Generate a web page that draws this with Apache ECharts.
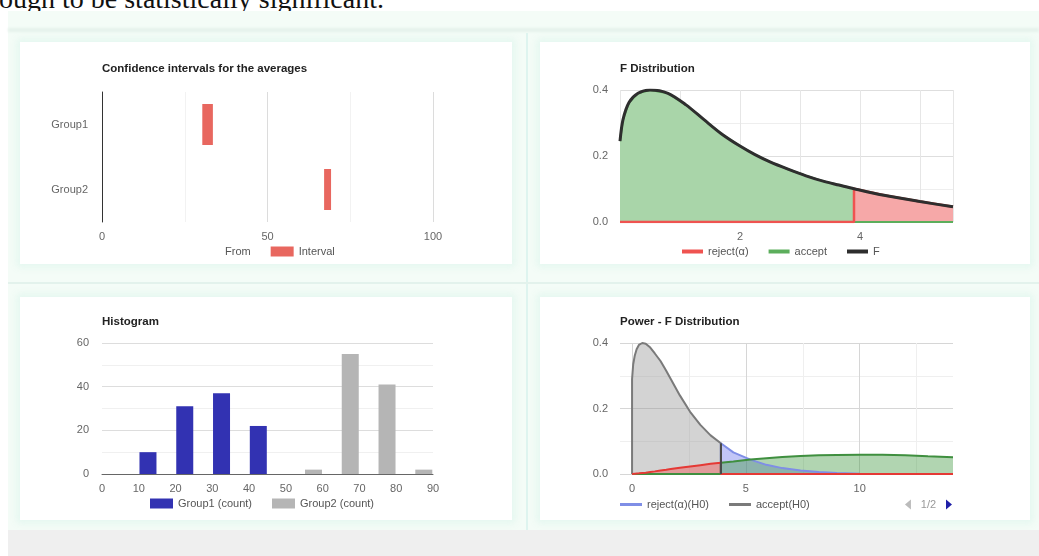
<!DOCTYPE html>
<html>
<head>
<meta charset="utf-8">
<title>ANOVA charts</title>
<script src="https://cdn.jsdelivr.net/npm/echarts@6/dist/echarts.min.js"></script>
<style>
  html, body {
    margin: 0;
    padding: 0;
    width: 1039px;
    height: 556px;
    overflow: hidden;
    background: #fff;
  }
  .lead {
    position: absolute;
    left: -1px;
    top: -17px;
    font-family: 'Liberation Serif', 'Times New Roman', serif;
    font-size: 28px;
    line-height: 32px;
    white-space: nowrap;
    color: #111;
  }
  .panel {
    position: absolute;
    left: 8px;
    top: 11px;
    width: 1031px;
    height: 519px;
    background: #f4fcf7;
  }
  .band {
    position: absolute;
    left: 8px;
    top: 28px;
    width: 1031px;
    height: 4px;
    background: #e6f2ec;
    filter: blur(1px);
  }
  .vsep {
    position: absolute;
    left: 526px;
    top: 33px;
    width: 2px;
    height: 497px;
    background: #def4ef;
  }
  .hsep {
    position: absolute;
    left: 8px;
    top: 282px;
    width: 1031px;
    height: 2px;
    background: #e3f2ec;
  }
  .card {
    position: absolute;
    background: #fff;
    box-shadow: 0 0 7px 3px rgba(225, 246, 238, 0.9);
  }
  .footer {
    position: absolute;
    left: 8px;
    top: 530px;
    width: 1031px;
    height: 26px;
    background: #efefef;
  }
  #chart {
    position: absolute;
    left: 0;
    top: 0;
    width: 1039px;
    height: 556px;
  }
</style>
</head>
<body>
<div class="lead">ough to be statistically significant.</div>
<div class="panel"></div>
<div class="band"></div>
<div class="vsep"></div>
<div class="hsep"></div>
<div class="card" style="left:20px;top:42px;width:492px;height:222px"></div>
<div class="card" style="left:540px;top:42px;width:490px;height:222px"></div>
<div class="card" style="left:20px;top:297px;width:492px;height:223px"></div>
<div class="card" style="left:540px;top:297px;width:490px;height:223px"></div>
<div class="footer"></div>
<div id="chart"></div>

<script>
// confidence intervals
const ciGroups = ['Group1', 'Group2'];
const ciFrom = [30.3, 67.1];
const ciWidth = [3.2, 2.1];

// F distribution
const fX = [0, 0.05, 0.15, 0.3, 0.5, 0.8, 1.1, 1.4, 1.7, 2.0, 2.25, 2.5, 2.8, 3.1, 3.4, 3.65, 3.9, 4.4, 5.0, 5.55];
const fY = [0.245, 0.31, 0.362, 0.39, 0.40, 0.39, 0.355, 0.31, 0.266, 0.23, 0.204, 0.182, 0.16, 0.14, 0.123, 0.112, 0.101, 0.081, 0.062, 0.046];
const fCrit = 3.9;

// histogram
const histX1 = [12.5, 22.5, 32.5, 42.5];
const histCount1 = [10, 31, 37, 22];
const histX2 = [57.5, 67.5, 77.5, 87.5];
const histCount2 = [2, 55, 41, 2];

// power chart: null and alternative curves on the same x points
const powX = [0, 0.05, 0.12, 0.2, 0.3, 0.45, 0.6, 0.8, 1.0, 1.25, 1.5, 1.7, 2.1, 2.55, 3.0, 3.45, 3.9, 4.45, 5.2, 5.9, 6.6, 7.4, 8.2, 9.0, 10, 11, 12, 13, 14.1];
const powNull = [0.29, 0.335, 0.362, 0.381, 0.394, 0.40, 0.398, 0.386, 0.368, 0.345, 0.315, 0.29, 0.24, 0.19, 0.15, 0.118, 0.094, 0.066, 0.044, 0.028, 0.018, 0.011, 0.006, 0.003, 0.001, 0, 0, 0, 0];
const powAlt = [0, 0.0005, 0.001, 0.0015, 0.002, 0.003, 0.004, 0.006, 0.008, 0.011, 0.013, 0.015, 0.019, 0.023, 0.027, 0.031, 0.034, 0.038, 0.044, 0.048, 0.052, 0.055, 0.057, 0.058, 0.059, 0.059, 0.057, 0.054, 0.051];
const powCrit = 3.9;
const powLegend = ['reject(α)(H0)', 'accept(H0)', 'accept(β)(H1)', 'power(H1)'];
const powLegendPerPage = 2;

// curve left of the critical value, dropping to zero there
// (tail = keep running along zero to the end)
function leftPart(xs, ys, crit, fromZero, tail) {
  const out = fromZero ? [[xs[0], 0]] : [];
  xs.forEach((x, i) => { if (x <= crit) out.push([x, ys[i]]); });
  out.push([crit, 0]);
  if (tail) xs.forEach(x => { if (x > crit) out.push([x, 0]); });
  return out;
}

// curve right of the critical value, rising from zero there
// (lead = run along zero from the start)
function rightPart(xs, ys, crit, lead) {
  const out = [];
  if (lead) xs.forEach(x => { if (x < crit) out.push([x, 0]); });
  out.push([crit, 0]);
  xs.forEach((x, i) => { if (x >= crit) out.push([x, ys[i]]); });
  return out;
}

const powNullAtCrit = powNull[powX.indexOf(powCrit)];

const labelColor = '#666';
const fontFamily = "'Liberation Sans', Arial, sans-serif";

const titleStyle = { fontSize: 11.5, fontWeight: 'bold', color: '#222', fontFamily };
const legendText = { fontSize: 11, color: '#555', fontFamily };

const area = (name, data, line, fill, width, grid) => ({
  name,
  type: 'line',
  xAxisIndex: grid,
  yAxisIndex: grid,
  data,
  symbol: 'none',
  lineStyle: { color: line, width },
  itemStyle: { color: line },
  areaStyle: { color: fill, opacity: 1 },
});

const chart = echarts.init(document.getElementById('chart'), null, { renderer: 'canvas' });

const nullAccept = area('accept(H0)', leftPart(powX, powNull, powCrit, true, false), '#7a7a7a', 'rgba(150, 150, 150, 0.42)', 2, 3);
nullAccept.markLine = {
  silent: true,
  symbol: 'none',
  label: { show: false },
  lineStyle: { color: '#4a4a4a', width: 2, type: 'solid' },
  data: [[{ coord: [powCrit, 0] }, { coord: [powCrit, powNullAtCrit] }]],
};

chart.setOption({
  animation: false,
  textStyle: { fontFamily },
  title: [
    { text: 'Confidence intervals for the averages', left: 102, top: 63, textStyle: titleStyle, padding: 0 },
    { text: 'F Distribution', left: 620, top: 63, textStyle: titleStyle, padding: 0 },
    { text: 'Histogram', left: 102, top: 316, textStyle: titleStyle, padding: 0 },
    { text: 'Power - F Distribution', left: 620, top: 316, textStyle: titleStyle, padding: 0 },
  ],
  legend: [
    {
      left: 197, top: 246, padding: 0, itemGap: 20,
      itemWidth: 23, itemHeight: 10, icon: 'rect',
      textStyle: legendText,
      data: ['From', 'Interval'],
      selectedMode: false,
    },
    {
      left: 682, top: 246, padding: 0, itemGap: 20,
      itemWidth: 21, itemHeight: 4, icon: 'rect',
      textStyle: legendText,
      data: ['reject(α)', 'accept', 'F'],
      selectedMode: false,
    },
    {
      left: 150, top: 498, padding: 0, itemGap: 20,
      itemWidth: 23, itemHeight: 10, icon: 'rect',
      textStyle: legendText,
      data: ['Group1 (count)', 'Group2 (count)'],
      selectedMode: false,
    },
    {
      type: 'scroll',
      left: 620, top: 499, width: 332, padding: 0, itemGap: 20,
      itemWidth: 22, itemHeight: 3, icon: 'rect',
      textStyle: legendText,
      data: powLegend,
      selectedMode: false,
      pageButtonGap: 80,
      pageButtonItemGap: 5,
      pageIconSize: 10,
      pageIconColor: '#1f1fa8',
      pageIconInactiveColor: '#bbb',
      // count pages the way the original legend does: fixed items per page
      pageFormatter: p => p.current + '/' + Math.ceil(powLegend.length / powLegendPerPage),
      pageTextStyle: { color: '#999', fontSize: 11, fontFamily },
    },
  ],
  grid: [
    { left: 102, top: 92, width: 331, height: 130 },
    { left: 620, top: 90, width: 333, height: 132 },
    { left: 102, top: 343, width: 331, height: 131 },
    { left: 620, top: 343, width: 333, height: 131 },
  ],
  xAxis: [
    {
      gridIndex: 0, type: 'value', min: 0, max: 100, interval: 25,
      axisLine: { show: false }, axisTick: { show: false },
      axisLabel: {
        color: labelColor, fontSize: 11, margin: 9,
        formatter: v => (v % 50 === 0 ? String(v) : ''),
      },
      splitLine: { lineStyle: { color: ['#dcdcdc', '#f2f2f2'] } },
    },
    {
      gridIndex: 1, type: 'value', min: 0, max: 5.55, interval: 1,
      axisLine: { show: false }, axisTick: { show: false },
      axisLabel: {
        color: labelColor, fontSize: 11, margin: 9,
        formatter: v => (v > 0 && v % 2 === 0 ? String(v) : ''),
      },
      splitLine: { lineStyle: { color: '#e6e6e6' } },
    },
    {
      gridIndex: 2, type: 'value', min: 0, max: 90, interval: 10,
      axisLine: { show: true, lineStyle: { color: '#666' } },
      axisTick: { show: false },
      axisLabel: { color: labelColor, fontSize: 11, margin: 9 },
      splitLine: { show: false },
    },
    {
      gridIndex: 3, type: 'value', min: -0.53, max: 14.1,
      axisLine: { show: false },
      axisTick: { show: false, customValues: [0, 2.5, 5, 7.5, 10, 12.5] },
      axisLabel: { color: labelColor, fontSize: 11, margin: 9, customValues: [0, 5, 10] },
      splitLine: { lineStyle: { color: ['#d6d6d6', '#efefef'] } },
    },
  ],
  yAxis: [
    {
      gridIndex: 0, type: 'category', data: ciGroups, inverse: true,
      axisLine: { show: true, lineStyle: { color: '#333' } },
      axisTick: { show: false },
      axisLabel: { color: labelColor, fontSize: 11, margin: 14 },
    },
    {
      gridIndex: 1, type: 'value', min: 0, max: 0.4, interval: 0.1,
      axisLine: { show: false }, axisTick: { show: false },
      axisLabel: {
        color: labelColor, fontSize: 11, margin: 12,
        formatter: v => (Math.round(v * 10) % 2 === 0 ? v.toFixed(1) : ''),
      },
      splitLine: { lineStyle: { color: ['#dedede', '#eeeeee'] } },
    },
    {
      gridIndex: 2, type: 'value', min: 0, max: 60, interval: 10,
      axisLine: { show: false }, axisTick: { show: false },
      axisLabel: {
        color: labelColor, fontSize: 11, margin: 13,
        formatter: v => (v % 20 === 0 ? String(v) : ''),
      },
      splitLine: { lineStyle: { color: ['#dddddd', '#f0f0f0'] } },
    },
    {
      gridIndex: 3, type: 'value', min: 0, max: 0.4, interval: 0.1,
      axisLine: { show: false }, axisTick: { show: false },
      axisLabel: {
        color: labelColor, fontSize: 11, margin: 12,
        formatter: v => (Math.round(v * 10) % 2 === 0 ? v.toFixed(1) : ''),
      },
      splitLine: { lineStyle: { color: ['#d6d6d6', '#efefef'] } },
    },
  ],
  series: [
    // confidence intervals: invisible offset + red interval
    {
      name: 'From', type: 'bar', stack: 'ci', xAxisIndex: 0, yAxisIndex: 0,
      data: ciFrom, barWidth: 41,
      itemStyle: { color: 'rgba(0,0,0,0)' },
    },
    {
      name: 'Interval', type: 'bar', stack: 'ci', xAxisIndex: 0, yAxisIndex: 0,
      data: ciWidth, barWidth: 41,
      itemStyle: { color: '#e8675f' },
    },

    // F distribution
    area('accept', leftPart(fX, fY, fCrit, false, true), '#5cae5c', '#a9d5a9', 2, 1),
    area('reject(α)', rightPart(fX, fY, fCrit, true), '#ef5350', '#f6a8a8', 2.5, 1),
    {
      name: 'F', type: 'line', xAxisIndex: 1, yAxisIndex: 1,
      data: fX.map((x, i) => [x, fY[i]]),
      symbol: 'none', smooth: 0.3,
      lineStyle: { color: '#2e2e2e', width: 3 },
      itemStyle: { color: '#2e2e2e' },
    },

    // histogram
    {
      name: 'Group1 (count)', type: 'bar', xAxisIndex: 2, yAxisIndex: 2,
      data: histX1.map((x, i) => [x, histCount1[i]]),
      barWidth: 17, barGap: '-100%',
      itemStyle: { color: '#3232b2' },
    },
    {
      name: 'Group2 (count)', type: 'bar', xAxisIndex: 2, yAxisIndex: 2,
      data: histX2.map((x, i) => [x, histCount2[i]]),
      barWidth: 17, barGap: '-100%',
      itemStyle: { color: '#b5b5b5' },
    },

    // power
    nullAccept,
    area('reject(α)(H0)', rightPart(powX, powNull, powCrit, false), '#7f8ee6', 'rgba(110, 120, 235, 0.42)', 2, 3),
    area('power(H1)', rightPart(powX, powAlt, powCrit, true), '#3f8f3f', 'rgba(60, 150, 60, 0.4)', 2, 3),
    area('accept(β)(H1)', leftPart(powX, powAlt, powCrit, false, true), '#e53935', 'rgba(240, 100, 100, 0.5)', 2, 3),
  ],
});

window.addEventListener('resize', () => chart.resize());
</script>
</body>
</html>
